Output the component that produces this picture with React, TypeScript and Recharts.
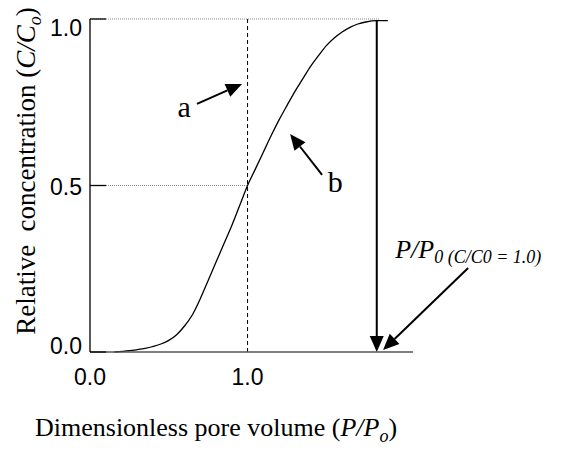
import React from 'react'
import { LineChart, Line, XAxis, YAxis, ReferenceLine, ReferenceDot } from 'recharts'

// breakthrough curve
const poreVolume = [0.155, 0.25, 0.35, 0.45, 0.5, 0.55, 0.6, 0.65, 0.7, 0.75, 0.8, 0.85, 0.9, 0.95, 1.0, 1.05, 1.1, 1.15, 1.2, 1.25, 1.3, 1.35, 1.4, 1.45, 1.5, 1.55, 1.6, 1.65, 1.7, 1.75, 1.82, 1.89]
const concentration = [0, 0.004, 0.011, 0.024, 0.035, 0.052, 0.078, 0.112, 0.16, 0.215, 0.27, 0.325, 0.38, 0.44, 0.5, 0.55, 0.6, 0.65, 0.697, 0.74, 0.782, 0.82, 0.858, 0.89, 0.92, 0.943, 0.961, 0.975, 0.985, 0.991, 0.995, 0.995]

const xTicks = [0, 1]
const yTicks = [0, 0.5, 1]
const breakthroughX = 1.82

const data = poreVolume.map((x, i) => ({ x, c: concentration[i] }))

const SERIF = '"Liberation Serif", "Times New Roman", serif'
const SANS = '"Liberation Sans", Arial, sans-serif'

// small vertical nudges of the y tick labels as placed in the original
const yNudge: Record<number, number> = { 0: -6, 0.5: 1, 1: 9 }

const arrow = (width: number, head: number, half: number) => (p: any) => {
  const { x1, y1, x2, y2 } = p
  const a = Math.atan2(y2 - y1, x2 - x1)
  const bx = x2 - head * Math.cos(a)
  const by = y2 - head * Math.sin(a)
  const nx = -Math.sin(a) * half
  const ny = Math.cos(a) * half
  return (
    <g>
      <line x1={x1} y1={y1} x2={bx} y2={by} stroke="#000" strokeWidth={width} />
      <polygon points={`${x2},${y2} ${bx + nx},${by + ny} ${bx - nx},${by - ny}`} fill="#000" />
    </g>
  )
}

const XTick = ({ x, y, payload }: any) => (
  <text x={x} y={y + 33} textAnchor="middle" fontFamily={SANS} fontSize={23} fill="#000">
    {payload.value.toFixed(1)}
  </text>
)

const YTick = ({ x, y, payload }: any) => (
  <g>
    <line x1={x + 8} y1={y} x2={x + 24} y2={y} stroke="#000" strokeWidth={1.3} />
    <text x={x} y={y + 8 + (yNudge[payload.value] ?? 0)} textAnchor="end" fontFamily={SANS} fontSize={23} fill="#000">
      {payload.value.toFixed(1)}
    </text>
  </g>
)

const XLabel = ({ viewBox }: any) => (
  <text x={viewBox.x - 55} y={436} fontFamily={SERIF} fontSize={26} fill="#000">
    Dimensionless pore volume (<tspan fontStyle="italic">P/P</tspan>
    <tspan fontStyle="italic" fontSize={18} dy={6}>o</tspan>
    <tspan dy={-6}>)</tspan>
  </text>
)

const YLabel = () => {
  const cx = 35
  const cy = 171
  return (
    <text x={cx} y={cy} transform={`rotate(-90 ${cx} ${cy})`} textAnchor="middle" fontFamily={SERIF} fontSize={27} fill="#000">
      Relative{'\u00a0\u00a0'}concentration (<tspan fontStyle="italic">C/C</tspan>
      <tspan fontStyle="italic" fontSize={18} dy={6}>o</tspan>
      <tspan dy={-6}>)</tspan>
    </text>
  )
}

const letter = (t: string) => (p: any) => (
  <text x={p.cx} y={p.cy} textAnchor="middle" fontFamily={SERIF} fontSize={30} fill="#000">{t}</text>
)

const breakLabel = (p: any) => (
  <text x={p.cx} y={p.cy} fontFamily={SERIF} fontStyle="italic" fontSize={26} fill="#000">
    P/P<tspan fontSize={18} dy={5}>0 (C/C0 = 1.0)</tspan>
  </text>
)

export default function App() {
  return (
    <div style={{ position: 'absolute', left: 0, top: 0, background: '#fff' }}>
      <LineChart width={564} height={454} data={data} margin={{ top: 19, right: 151, left: 0, bottom: 0 }}>
        <XAxis
          type="number"
          dataKey="x"
          domain={[0, 2.05]}
          ticks={xTicks}
          tickLine={false}
          tickSize={0}
          tickMargin={0}
          tick={<XTick />}
          height={102}
          axisLine={{ stroke: '#555', strokeWidth: 1.3 }}
          label={<XLabel />}
        />
        <YAxis
          type="number"
          domain={[0, 1]}
          ticks={yTicks}
          tickLine={false}
          tickSize={0}
          tickMargin={8}
          tick={<YTick />}
          width={90}
          axisLine={{ stroke: '#000', strokeWidth: 1.3 }}
          label={<YLabel />}
        />
        <ReferenceLine segment={[{ x: 0, y: 1 }, { x: 1.835, y: 1 }]} stroke="#888" strokeDasharray="1 1" />
        <ReferenceLine segment={[{ x: 0, y: 0.5 }, { x: 1, y: 0.5 }]} stroke="#888" strokeDasharray="1 1" />
        <ReferenceLine segment={[{ x: 1, y: 0 }, { x: 1, y: 1 }]} stroke="#000" strokeDasharray="4 3" />
        <Line type="monotone" dataKey="c" stroke="#000" strokeWidth={1.3} dot={false} isAnimationActive={false} />
        <ReferenceLine segment={[{ x: breakthroughX, y: 0.995 }, { x: breakthroughX, y: 0 }]} shape={arrow(2, 16, 7)} />
        <ReferenceLine segment={[{ x: 0.679, y: 0.745 }, { x: 0.965, y: 0.805 }]} shape={arrow(2, 16, 7)} />
        <ReferenceLine segment={[{ x: 1.473, y: 0.532 }, { x: 1.27, y: 0.655 }]} shape={arrow(2, 16, 7)} />
        <ReferenceLine segment={[{ x: 2.4, y: 0.252 }, { x: 1.86, y: 0.006 }]} shape={arrow(2, 16, 7)} ifOverflow="visible" />
        <ReferenceDot x={0.597} y={0.706} shape={letter('a')} />
        <ReferenceDot x={1.556} y={0.48} shape={letter('b')} />
        <ReferenceDot x={1.937} y={0.282} shape={breakLabel} />
      </LineChart>
    </div>
  )
}
